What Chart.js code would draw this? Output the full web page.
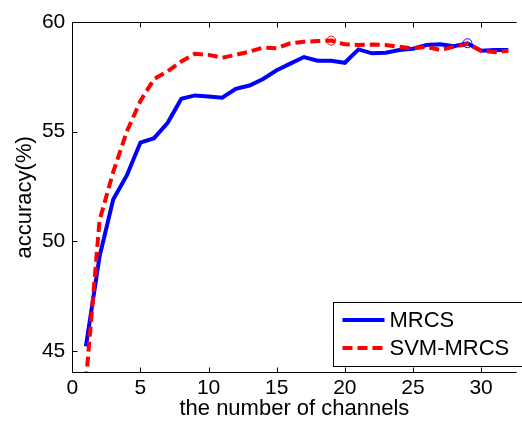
<!DOCTYPE html>
<html>
<head>
<meta charset="utf-8">
<script src="https://cdn.jsdelivr.net/npm/chart.js@4/dist/chart.umd.min.js"></script>
<style>
	html, body { margin: 0; padding: 0; background: #fff; }
	#graficoCanais { display: block; }
</style>
</head>
<body>
<canvas id="graficoCanais" width="522" height="425"></canvas>
<script>
var channels = [1, 2, 3, 4, 5, 6, 7, 8, 9, 10, 11, 12, 13, 14, 15, 16,
	17, 18, 19, 20, 21, 22, 23, 24, 25, 26, 27, 28, 29, 30, 31, 32];
var mrcs = [45.2, 49.3, 51.9, 53.0, 54.5, 54.7, 55.4, 56.5, 56.65, 56.6, 56.55, 56.95, 57.1, 57.4, 57.8, 58.1,
	58.4, 58.23, 58.23, 58.14, 58.75, 58.57, 58.6, 58.72, 58.78, 58.95, 58.98, 58.9, 59.03, 58.69, 58.72, 58.72];
var svmMrcs = [43.6, 50.95, 53.15, 55.0, 56.4, 57.4, 57.75, 58.2, 58.55, 58.5, 58.37, 58.5, 58.65, 58.83, 58.8, 59.03,
	59.1, 59.13, 59.15, 58.98, 58.95, 58.97, 58.95, 58.87, 58.8, 58.87, 58.72, 58.87, 59.0, 58.69, 58.62, 58.69];
var seriesNames = ['MRCS', 'SVM-MRCS'];
var bestChannel = [29, 19]; // circled point of each series
var xTicks = [0, 5, 10, 15, 20, 25, 30];
var yTicks = [45, 50, 55, 60];
var xTitle = 'the number of channels';
var yTitle = 'accuracy(%)';

var FONT = "'Liberation Sans', Arial, sans-serif";

function toPoints(xs, ys) {
	return xs.map(function(x, i) { return { x: x, y: ys[i] }; });
}

function bestPoint(xs, ys, ch) {
	var i = xs.indexOf(ch);
	return [{ x: xs[i], y: ys[i] }];
}

// frame, inward ticks and legend box (matlab look)
var framePlugin = {
	id: 'frame',
	afterDatasetsDraw: function(chart) {
		var ctx = chart.ctx;
		var area = chart.chartArea;
		var sx = chart.scales.x, sy = chart.scales.y;
		var top = Math.round(area.top) + 0.5;
		var bottom = Math.round(area.bottom) - 0.5;
		var left = Math.round(area.left) + 0.5;

		ctx.save();
		ctx.strokeStyle = '#000';
		ctx.lineWidth = 1;
		ctx.beginPath();
		ctx.moveTo(left, top); ctx.lineTo(area.right, top);
		ctx.moveTo(left, top); ctx.lineTo(left, bottom);
		ctx.moveTo(left, bottom); ctx.lineTo(area.right, bottom);
		sx.ticks.forEach(function(t) {
			var px = Math.round(sx.getPixelForValue(t.value)) + 0.5;
			ctx.moveTo(px, bottom); ctx.lineTo(px, bottom - 5);
			ctx.moveTo(px, top); ctx.lineTo(px, top + 5);
		});
		sy.ticks.forEach(function(t) {
			var py = Math.round(sy.getPixelForValue(t.value)) + 0.5;
			ctx.moveTo(left, py); ctx.lineTo(left + 5, py);
		});
		ctx.stroke();

		// legend
		var bx = 333.5, by = bottom - 70, bw = 200, bh = 64;
		ctx.fillStyle = '#fff';
		ctx.fillRect(bx, by, bw, bh);
		ctx.strokeRect(bx, by, bw, bh);
		ctx.font = '22px ' + FONT;
		ctx.textBaseline = 'middle';
		ctx.textAlign = 'left';
		for (var i = 0; i < 2; i++) {
			var ds = chart.data.datasets[i];
			var ly = by + 17.5 + i * 28;
			ctx.beginPath();
			ctx.strokeStyle = ds.borderColor;
			ctx.lineWidth = ds.borderWidth;
			ctx.setLineDash(ds.borderDash || []);
			ctx.moveTo(bx + 9, ly);
			ctx.lineTo(bx + 51, ly);
			ctx.stroke();
			ctx.setLineDash([]);
			ctx.fillStyle = '#000';
			ctx.fillText(ds.label, bx + 56, ly + 1);
		}
		ctx.restore();
	}
};

var grafico = new Chart(document.getElementById('graficoCanais').getContext('2d'), {
	type: 'line',
	data: {
		datasets: [
			{
				label: seriesNames[0],
				data: toPoints(channels, mrcs),
				borderColor: '#0000ff',
				borderWidth: 4,
				pointRadius: 0,
				tension: 0,
				clip: 0,
				order: 2
			},
			{
				label: seriesNames[1],
				data: toPoints(channels, svmMrcs),
				borderColor: '#ff0000',
				borderWidth: 4,
				borderDash: [10, 5],
				pointRadius: 0,
				tension: 0,
				clip: 0,
				order: 1
			},
			{
				label: 'best ' + seriesNames[0],
				data: bestPoint(channels, mrcs, bestChannel[0]),
				showLine: false,
				pointRadius: 4.5,
				pointBorderWidth: 1,
				pointBorderColor: '#0000ff',
				pointBackgroundColor: 'rgba(0,0,0,0)',
				order: 0
			},
			{
				label: 'best ' + seriesNames[1],
				data: bestPoint(channels, svmMrcs, bestChannel[1]),
				showLine: false,
				pointRadius: 4.5,
				pointBorderWidth: 1,
				pointBorderColor: '#ff0000',
				pointBackgroundColor: 'rgba(0,0,0,0)',
				order: 0
			}
		]
	},
	options: {
		responsive: false,
		animation: false,
		devicePixelRatio: 1,
		layout: { padding: { top: 22, right: 0, left: 0, bottom: 0 } },
		plugins: {
			legend: { display: false },
			tooltip: { enabled: false }
		},
		scales: {
			x: {
				type: 'linear',
				min: 0,
				max: 32.6,
				afterBuildTicks: function(scale) {
					scale.ticks = xTicks.map(function(v) { return { value: v }; });
				},
				afterFit: function(scale) { scale.height = 52.3; },
				grid: { display: false, drawTicks: false },
				border: { display: false },
				ticks: {
					color: '#000',
					padding: 3,
					maxRotation: 0,
					font: { family: FONT, size: 21 }
				},
				title: {
					display: true,
					text: xTitle,
					color: '#000',
					padding: { top: 0, bottom: 3 },
					font: { family: FONT, size: 22 }
				}
			},
			y: {
				min: 44,
				max: 60,
				afterBuildTicks: function(scale) {
					scale.ticks = yTicks.map(function(v) { return { value: v }; });
				},
				afterFit: function(scale) { scale.width = 72.3; },
				grid: { display: false, drawTicks: false },
				border: { display: false },
				ticks: {
					color: '#000',
					padding: 7,
					font: { family: FONT, size: 21 }
				},
				title: {
					display: true,
					text: yTitle,
					color: '#000',
					padding: { top: 12, bottom: 0 },
					font: { family: FONT, size: 22 }
				}
			}
		}
	},
	plugins: [framePlugin]
});
</script>
</body>
</html>
